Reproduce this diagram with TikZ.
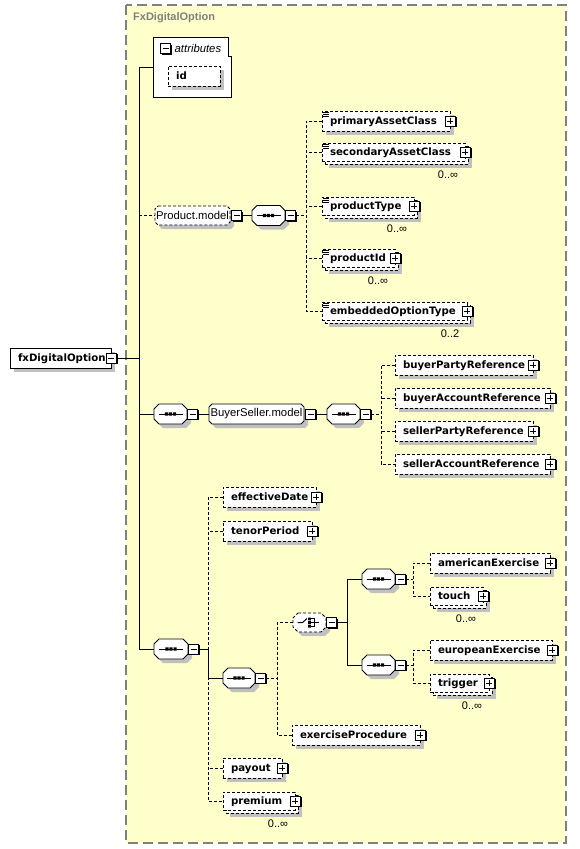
\documentclass[tikz,border=0pt]{standalone}
\usepackage{fontspec}
\setmainfont{Liberation Sans}
\newfontfamily\elemfont{DejaVu Sans}
\usetikzlibrary{shadows}
\definecolor{bgyellow}{RGB}{255,255,204}
\definecolor{shadegray}{RGB}{192,192,192}
\definecolor{framegray}{RGB}{128,128,128}
\tikzset{
  sh/.style={drop shadow={shadow xshift=4pt, shadow yshift=-4pt, fill=shadegray, opacity=1}},
  optline/.style={dash pattern=on 3pt off 2pt},
  conn/.style={line width=1pt},
  dconn/.style={line width=1pt, optline},
  boldtxt/.style={font=\elemfont\fontsize{10.2}{12}\selectfont\bfseries},
  titletxt/.style={font=\fontsize{11}{13}\selectfont\bfseries},
  plaintxt/.style={font=\fontsize{11.3}{13}\selectfont},
  elembase/.style={draw, fill=white, line width=0.9pt, inner sep=0pt, boldtxt},
  elemreq/.style={elembase, sh},
  elemopt/.style={elembase, optline, sh},
  elemback/.style={elembase, optline, sh},
  elemfront/.style={elembase, optline},
  multtxt/.style={font=\fontsize{11}{13}\selectfont, inner sep=0pt},
  xbox/.style={draw, fill=white, line width=0.9pt, minimum size=10pt, inner sep=0pt,
    drop shadow={shadow xshift=1.2pt, shadow yshift=-1.2pt, fill=black, opacity=1}},
  minusbox/.style={xbox, path picture={\draw[line width=1pt]
      ([xshift=-3pt]path picture bounding box.center) -- ([xshift=3pt]path picture bounding box.center);}},
  plusbox/.style={xbox, path picture={\draw[line width=1pt]
      ([xshift=-3pt]path picture bounding box.center) -- ([xshift=3pt]path picture bounding box.center)
      ([yshift=-3pt]path picture bounding box.center) -- ([yshift=3pt]path picture bounding box.center);}},
  compline/.style={draw, fill=white, line width=0.9pt},
  compshadow/.style={fill=shadegray, shift={(4,4)}},
  seqsym/.style={inner sep=0pt, path picture={\begin{scope}[shift={(path picture bounding box.center)}]
      \draw[line width=1pt] (-12,0) -- (12,0);
      \fill (-5.7,-1.6) rectangle ++(3.2,3.2) (-1.6,-1.6) rectangle ++(3.2,3.2) (2.5,-1.6) rectangle ++(3.2,3.2);
      \end{scope}}},
  choicesym/.style={inner sep=0pt, path picture={\begin{scope}[shift={(path picture bounding box.center)}]
      \draw[line width=1pt] (-12,0) -- (-7,0) -- (-2.5,-4);
      \fill (-1.5,-5) rectangle ++(2.8,2.8) (-1.5,-1.4) rectangle ++(2.8,2.8) (-1.5,2.2) rectangle ++(2.8,2.8);
      \draw[line width=1pt] (1.3,-3.6) -- (4.5,-3.6) -- (4.5,3.6) -- (1.3,3.6) (1.3,0) -- (9,0);
      \end{scope}}},
  grptxt/.style={inner sep=0pt, plaintxt},
}
\newcommand\lbox[2]{\makebox[\dimexpr #1\relax][l]{\rule[-3pt]{0pt}{13pt}#2}}
% octagon path: centre x, centre y, half width, half height, chamfer
\newcommand\octpath[5]{({#1-#3+#5},{#2-#4}) -- ({#1+#3-#5},{#2-#4}) -- ({#1+#3},{#2-#4+#5})
  -- ({#1+#3},{#2+#4-#5}) -- ({#1+#3-#5},{#2+#4}) -- ({#1-#3+#5},{#2+#4}) -- ({#1-#3},{#2+#4-#5})
  -- ({#1-#3},{#2-#4+#5}) -- cycle}
% compositor / group node: line style, name, x, y, half w, half h, chamfer, node style, text
\newcommand\compnode[9]{%
  \path[compshadow] \octpath{#3}{#4}{#5}{#6}{#7};
  \path[compline,#1] \octpath{#3}{#4}{#5}{#6}{#7};
  \node[#8, minimum width={2*#5}, minimum height={2*#6}] (#2) at (#3,#4) {#9};}
\newcommand\singleelem[7]{% style, name, l, t, r, b, text
  \node[#1, minimum width={#5-#3}, minimum height={#6-#4}] (#2) at ({(#3+#5)/2},{(#4+#6)/2}) {\lbox{#5pt-#3pt-16pt}{#7}};
  \node[plusbox] (#2x) at (#2.east) {};}
\newcommand\multielem[7]{% name, l, t, r, b, text, multiplicity
  \node[elemback, minimum width={#4-#2-3}, minimum height={#5-#3-3}] (#1b) at ({(#2+#4)/2+1.5},{(#3+#5)/2+1.5}) {};
  \node[elemfront, minimum width={#4-#2-3}, minimum height={#5-#3-3}] (#1) at ({(#2+#4)/2-1.5},{(#3+#5)/2-1.5}) {\lbox{#4pt-#2pt-19pt}{#6}};
  \node[plusbox] (#1x) at (#1.east) {};
  \node[multtxt] (#1m) at ({#4-20},{#5+11}) {#7};}
\newcommand\eqicon[1]{\draw[line width=0.6pt] ([shift={(1.5,1.5)}]#1.north west) -- ++(6,0)
  ([shift={(1.5,3.5)}]#1.north west) -- ++(6,0) ([shift={(1.5,5.5)}]#1.north west) -- ++(6,0);}

\begin{document}
\begin{tikzpicture}[x=1pt, y=-1pt]
\useasboundingbox (0,0) rectangle (579,849);
% container
\draw[framegray, line width=1.2pt, dash pattern=on 10pt off 5pt, fill=bgyellow] (126,5) rectangle (566,843);
\node[titletxt, text=framegray, anchor=west, inner sep=0pt] (title) at (133,18) {FxDigitalOption};

% attributes
\node[minimum width=77pt, minimum height=59pt, inner sep=0pt] (attr) at (192.5,67.5) {};
\draw[line width=0.9pt, fill=white] (attr.north west) -- ([xshift=-3pt]attr.north east) -- ++(0,19) -- ++(3,0)
  -- (attr.south east) -- (attr.south west) -- cycle;
\node[minusbox] (attrx) at (165.5,48.5) {};
\node[anchor=west, inner sep=0pt, font=\fontsize{11.3}{13}\selectfont\itshape] (attrt) at (174.5,48) {attributes};
\node[elemopt, minimum width=52pt, minimum height=20pt] (id) at (194,76) {\lbox{36pt}{id}};

% root
\node[elemreq, minimum width=101pt, minimum height=20pt] (fx) at (60.5,358) {\lbox{85pt}{fxDigitalOption}};
\node[minusbox] (fxx) at (fx.east) {};

% Product.model
\compnode{optline}{pm}{192.5}{215.5}{37.5}{9.5}{3}{grptxt}{Product.model}
\node[minusbox, anchor=west] (pmx) at ([xshift=1pt]pm.east) {};
\compnode{}{seqA}{268.5}{215.5}{16.5}{10}{5}{seqsym}{}
\node[minusbox, anchor=west] (seqAx) at (seqA.east) {};

\singleelem{elemopt}{pac}{322}{111}{450}{131}{primaryAssetClass}
\multielem{sac}{322}{143}{468}{164}{secondaryAssetClass}{0..∞}
\multielem{pty}{322}{197}{417}{218}{productType}{0..∞}
\multielem{pid}{322}{249}{398}{270}{productId}{0..∞}
\multielem{eot}{322}{302}{470}{323}{embeddedOptionType}{0..2}
\eqicon{pac}\eqicon{sac}\eqicon{pty}\eqicon{pid}\eqicon{eot}

% BuyerSeller
\compnode{}{seqB}{170.5}{414}{16.5}{10}{5}{seqsym}{}
\node[minusbox, anchor=west] (seqBx) at (seqB.east) {};
\compnode{}{bsm}{256.5}{414}{47.5}{10}{3}{grptxt}{BuyerSeller.model}
\node[minusbox, anchor=west] (bsmx) at ([xshift=1pt]bsm.east) {};
\compnode{}{seqB2}{343.5}{414}{16.5}{10}{5}{seqsym}{}
\node[minusbox, anchor=west] (seqB2x) at (seqB2.east) {};

\singleelem{elemopt}{bpr}{395}{355}{533}{375}{buyerPartyReference}
\singleelem{elemopt}{bar}{395}{388}{550}{408}{buyerAccountReference}
\singleelem{elemopt}{spr}{395}{421}{533}{441}{sellerPartyReference}
\singleelem{elemopt}{sar}{395}{454}{550}{474}{sellerAccountReference}

% third sequence
\compnode{}{seqC}{171}{649}{17}{10}{5}{seqsym}{}
\node[minusbox, anchor=west] (seqCx) at (seqC.east) {};
\singleelem{elemopt}{eff}{223}{487}{316}{507}{effectiveDate}
\singleelem{elemopt}{ten}{223}{521}{312}{541}{tenorPeriod}
\compnode{}{seqD}{239}{678}{16}{10}{5}{seqsym}{}
\node[minusbox, anchor=west] (seqDx) at (seqD.east) {};
\compnode{optline}{cho}{309.5}{622.5}{16.5}{9.5}{5}{choicesym}{}
\node[minusbox, anchor=west] (chox) at (cho.east) {};
\compnode{}{seqE}{378.5}{579}{16.5}{10}{5}{seqsym}{}
\node[minusbox, anchor=west] (seqEx) at (seqE.east) {};
\compnode{}{seqF}{378.5}{665}{16.5}{10}{5}{seqsym}{}
\node[minusbox, anchor=west] (seqFx) at (seqF.east) {};
\singleelem{elemopt}{ame}{430}{553}{550}{573}{americanExercise}
\multielem{tch}{430}{587}{486}{608}{touch}{0..∞}
\singleelem{elemopt}{eur}{430}{640}{552}{660}{europeanExercise}
\multielem{trg}{430}{674}{492}{695}{trigger}{0..∞}
\singleelem{elemopt}{exp}{292}{725}{420}{745}{exerciseProcedure}
\singleelem{elemopt}{pay}{223}{758}{282}{778}{payout}
\multielem{prm}{223}{792}{298}{813}{premium}{0..∞}

% guide coordinates
\coordinate (ttop) at (139,68);
\coordinate (vA) at (306,0);
\coordinate (vB) at (381,0);
\coordinate (vC) at (208,0);
\coordinate (vD) at (277,0);
\coordinate (vE) at (347,0);
\coordinate (vF) at (413,0);

% trunk
\draw[conn] (attr.west) -- (attr.west -| ttop) |- (seqC.west);
\draw[conn] (fxx.east) -- (fxx.east -| ttop);
\draw[dconn] (pm.west -| ttop) -- (pm.west);
\draw[conn] (seqB.west -| ttop) -- (seqB.west);

% Product.model
\draw[conn] (pmx.east) -- (seqA.west);
\draw[dconn] (seqAx.east) -- (seqAx.east -| vA);
\draw[dconn] (pac.west) -| (eot.west -| vA) -- (eot.west);
\draw[dconn] (sac.west) -- (sac.west -| vA);
\draw[dconn] (pty.west) -- (pty.west -| vA);
\draw[dconn] (pid.west) -- (pid.west -| vA);

% BuyerSeller
\draw[conn] (seqBx.east) -- (bsm.west);
\draw[conn] (bsmx.east) -- (seqB2.west);
\draw[dconn] (seqB2x.east) -- (seqB2x.east -| vB);
\draw[dconn] (bpr.west) -| (sar.west -| vB) -- (sar.west);
\draw[dconn] (bar.west) -- (bar.west -| vB);
\draw[dconn] (spr.west) -- (spr.west -| vB);

% third sequence
\draw[dconn] (eff.west) -| (prm.west -| vC) -- (prm.west);
\draw[dconn] (ten.west) -- (ten.west -| vC);
\draw[dconn] (pay.west) -- (pay.west -| vC);
\draw[conn] (seqCx.east) -- (seqCx.east -| vC) -- (seqD.west -| vC) -- (seqD.west);
\draw[dconn] (seqDx.east) -- (seqDx.east -| vD);
\draw[dconn] (cho.west) -| (exp.west -| vD) -- (exp.west);
\draw[conn] (chox.east) -- (chox.east -| vE);
\draw[conn] (seqE.west) -| (seqF.west -| vE) -- (seqF.west);
\draw[dconn] (seqEx.east) -- (seqEx.east -| vF);
\draw[dconn] (ame.west) -| (tch.west -| vF) -- (tch.west);
\draw[dconn] (seqFx.east) -- (seqFx.east -| vF);
\draw[dconn] (eur.west) -| (trg.west -| vF) -- (trg.west);
\end{tikzpicture}
\end{document}
